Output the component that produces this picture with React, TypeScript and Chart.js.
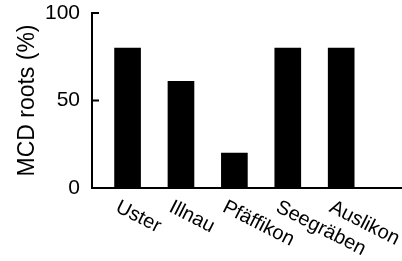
import React, { useEffect, useRef } from "react";
import { Chart, registerables } from "chart.js";

Chart.register(...registerables);

const categories = ["Uster", "Illnau", "Pfäffikon", "Seegräben", "Auslikon"];
const values = [80, 61, 20, 80, 80];
const yTicks = [0, 50, 100];
const yTitle = "MCD roots (%)";

const FONT = "'Liberation Sans', Arial, Helvetica, sans-serif";

export default function App() {
  const ref = useRef<HTMLCanvasElement | null>(null);

  useEffect(() => {
    document.body.style.margin = "0";
    const canvas = ref.current;
    if (!canvas) return;

    const customDraw = {
      id: "customDraw",
      afterDraw(chart: any) {
        const ctx = chart.ctx;
        const xs = chart.scales.x;
        const ys = chart.scales.y;
        ctx.save();
        // inward ticks on y axis
        ctx.strokeStyle = "#000";
        ctx.lineWidth = 2;
        yTicks.forEach((v) => {
          const py = ys.getPixelForValue(v);
          ctx.beginPath();
          ctx.moveTo(xs.left, py);
          ctx.lineTo(xs.left + 7, py);
          ctx.stroke();
        });
        // rotated category labels
        ctx.fillStyle = "#000";
        ctx.font = `20px ${FONT}`;
        ctx.textAlign = "left";
        ctx.textBaseline = "alphabetic";
        categories.forEach((c, i) => {
          const px = xs.getPixelForValue(i);
          ctx.save();
          ctx.translate(px - 13, ys.bottom + 23);
          ctx.rotate((27 * Math.PI) / 180);
          ctx.fillText(c, 0, 0);
          ctx.restore();
        });
        ctx.restore();
      },
    };

    const chart = new Chart(canvas, {
      type: "bar",
      data: {
        datasets: [
          {
            data: values.map((v, i) => ({ x: i, y: v })),
            backgroundColor: "#000",
            borderWidth: 0,
            barThickness: 26,
          },
        ],
      },
      options: {
        animation: false,
        responsive: false,
        maintainAspectRatio: false,
        layout: { padding: { top: 13, right: 1, left: 0, bottom: 0 } },
        plugins: { legend: { display: false }, tooltip: { enabled: false } },
        scales: {
          x: {
            type: "linear",
            offset: false,
            bounds: "data",
            min: -0.666,
            max: 5.12,
            grid: { display: false, drawTicks: false, offset: false },
            border: { display: true, color: "#000", width: 2 },
            ticks: { display: false },
            afterFit: (s: any) => {
              s.height = 73;
              s.paddingLeft = 0;
              s.paddingRight = 0;
            },
          },
          y: {
            min: 0,
            max: 100,
            afterBuildTicks: (s: any) => {
              s.ticks = yTicks.map((v) => ({ value: v }));
            },
            grid: { display: false, drawTicks: false },
            border: { display: true, color: "#000", width: 2 },
            ticks: {
              color: "#000",
              padding: 12,
              font: { family: FONT, size: 21 },
            },
            title: {
              display: true,
              text: yTitle,
              color: "#000",
              padding: { top: 14, bottom: 0 },
              font: { family: FONT, size: 23 },
            },
            afterFit: (s: any) => {
              s.width = 92;
              s.paddingTop = 0;
              s.paddingBottom = 0;
            },
          },
        },
      },
      plugins: [customDraw],
    });
    return () => chart.destroy();
  }, []);

  return (
    <div style={{ width: 402, height: 261, background: "#fff" }}>
      <canvas ref={ref} width={402} height={261} />
    </div>
  );
}
